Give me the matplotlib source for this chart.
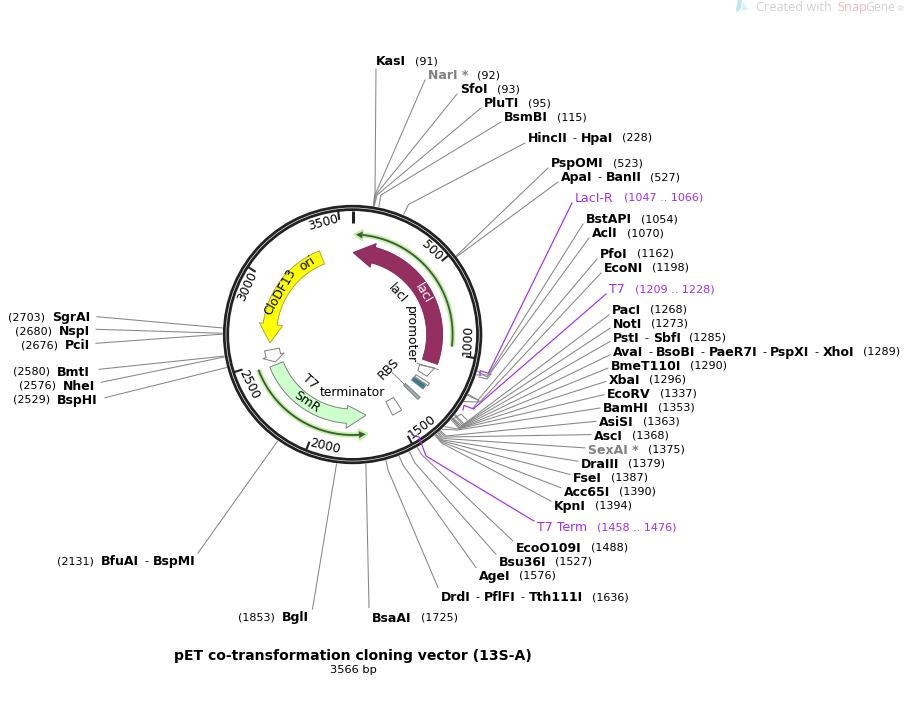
import numpy as np
import matplotlib
matplotlib.use("Agg")
import matplotlib.pyplot as plt
from matplotlib.patches import Polygon, Circle

# ---------- data ----------
TOTAL_BP = 3566
TITLE = "pET co-transformation cloning vector (13S-A)"
SIZE_LABEL = "3566 bp"
tick_values = [500, 1000, 1500, 2000, 2500, 3000, 3500]

right_names = ["KasI", "NarI *", "SfoI", "PluTI", "BsmBI", "HincII - HpaI", "PspOMI", "ApaI - BanII",
               "LacI-R", "BstAPI", "AclI", "PfoI", "EcoNI", "T7", "PacI", "NotI", "PstI - SbfI",
               "AvaI - BsoBI - PaeR7I - PspXI - XhoI", "BmeT110I", "XbaI", "EcoRV", "BamHI", "AsiSI",
               "AscI", "SexAI *", "DraIII", "FseI", "Acc65I", "KpnI", "T7 Term", "EcoO109I", "Bsu36I",
               "AgeI", "DrdI - PflFI - Tth111I", "BsaAI"]
right_pos = [91, 92, 93, 95, 115, 228, 523, 527, 1056, 1054, 1070, 1162, 1198, 1218, 1268, 1273, 1285,
             1289, 1290, 1296, 1337, 1353, 1363, 1368, 1375, 1379, 1387, 1390, 1394, 1467, 1488, 1527,
             1576, 1636, 1725]
right_text = ["(91)", "(92)", "(93)", "(95)", "(115)", "(228)", "(523)", "(527)", "(1047 .. 1066)",
              "(1054)", "(1070)", "(1162)", "(1198)", "(1209 .. 1228)", "(1268)", "(1273)", "(1285)",
              "(1289)", "(1290)", "(1296)", "(1337)", "(1353)", "(1363)", "(1368)", "(1375)", "(1379)",
              "(1387)", "(1390)", "(1394)", "(1458 .. 1476)", "(1488)", "(1527)", "(1576)", "(1636)", "(1725)"]
left_names = ["BglI", "BfuAI - BspMI", "SgrAI", "NspI", "PciI", "BmtI", "NheI", "BspHI"]
left_pos = [1853, 2131, 2703, 2680, 2676, 2580, 2576, 2529]

# feature spans in bp
lacI_span = (1084, 3)
lacI_orf_span = (960, 7)
smr_span = (2462, 1689)
smr_orf_span = (2471, 1697)
ori_span = (3351, 2617)
smr_prom_span = (2570, 2481)
t7term_box_span = (1456, 1522)
operator_span = (1235, 1265)
t7_box_span = (1212, 1230)
rbs_span = (1316, 1336)

# ---------- layout ----------
CX, CY = 352.6, 334.5
R_OUT, R_IN = 128.3, 124.9
right_x = [376, 428, 460, 484, 504, 528, 551, 561, 575, 586, 592, 600, 604, 609, 612, 613, 613, 613, 611,
           609, 607, 603, 599, 594, 588, 581, 573, 564, 554, 537, 516, 499, 479, 441, 372]
right_y = [61, 75, 89, 103, 117, 138, 163, 177, 198, 219, 233, 254, 268, 289, 310, 324, 338, 352, 366,
           380, 394, 408, 422, 436, 450, 464, 478, 492, 506, 527, 548, 562, 576, 597, 618]
right_elbow = [(375, 195), (374.5, 196), (376, 194.5), (377, 195), (381, 195), (408.5, 204.5), None, None,
               None, (487, 377), (489, 375), (478, 400), (480, 402), None,
               (464, 424), (463, 425), (462, 426), (461, 427), (460, 428), (459, 428.5), (458, 429), (457, 430),
               (446, 436), (445, 437), (444, 438.5), (443, 440), (442.5, 441), (442, 442), (441.5, 443),
               None, (422, 455), (415, 463), (403, 465), (388, 470), None]
left_right_edge = [309, 195, 90, 90, 90, 90, 95, 98]
left_y = [617, 561, 317, 331, 345, 372, 386, 400]
left_end = [(312.5, 609), (198, 553), (97, 316.7), (96, 329.3), (96, 343.3), (99, 369.3), (101, 382.3), (105, 397.7)]
purple_paths = {"LacI-R": [(480, 375.5), (480, 370.7), (488.3, 373.3)],
                "T7": [(463, 410), (464, 405.3), (473.3, 409)],
                "T7 Term": [(414.5, 436), (419, 437), (426, 456)]}
NAME_FS, POS_FS = 9.0, 8.0
PURPLE, GREY_TXT, LINE = "#a32cf0", "#808080", "#868686"
EDGE = "#808080"

fig = plt.figure(figsize=(9.06, 7.01), dpi=100)
ax = fig.add_axes([0, 0, 1, 1])
ax.set_xlim(0, 906)
ax.set_ylim(701, 0)
ax.axis("off")
renderer = fig.canvas.get_renderer()


def theta(bp):
    return np.deg2rad(np.asarray(bp, float) / TOTAL_BP * 360)


def P(bp, r):
    t = theta(bp)
    return CX + r * np.sin(t), CY - r * np.cos(t)


def arc(b0, b1, r, n=60):
    bps = np.linspace(b0, b1, n)
    x, y = P(bps, r)
    return list(zip(x, y))


def arrow_poly(start, end, r0, r1, w0, w1, head_deg=13.5):
    sign = 1 if end > start else -1
    base = end - sign * head_deg / 360 * TOTAL_BP
    return (arc(start, base, r0) + [P(base, w0), P(end, (r0 + r1) / 2), P(base, w1)] + arc(base, start, r1))


def word_at(txt, bp, r, **kw):
    deg = bp / TOTAL_BP * 360
    rot = 180 - deg if 90 <= deg < 270 else -deg
    x, y = P(bp, r)
    ax.text(x, y, txt, rotation=rot, rotation_mode="anchor", ha="center", va="center", **kw)


# ---------- leaders ----------
for name, bp, x, y, elbow in zip(right_names, right_pos, right_x, right_y, right_elbow):
    dy = 8 if name == "KasI" else float(np.clip((408 - y) * 0.05, -10.5, 5))
    end = (x - 3 if name != "KasI" else x, y + dy)
    if name in purple_paths:
        pts = purple_paths[name] + [end]
        ax.plot(*zip(*pts), color=PURPLE, lw=0.85, zorder=6, solid_joinstyle="miter")
        continue
    pts = [P(bp, 130.5)] + ([elbow] if elbow else []) + [end]
    ax.plot(*zip(*pts), color=LINE, lw=0.75, zorder=1)
for bp, end in zip(left_pos, left_end):
    pts = [P(bp, 130.5), end]
    ax.plot(*zip(*pts), color=LINE, lw=0.75, zorder=1)

# bracket shapes at the elbows
for pts in ([(479, 377), (487, 379), (491, 374)], [(467, 395), (479, 400.7), (473, 408)],
            [(452.7, 419.3), (461, 414), (467, 420)]):
    ax.plot(*zip(*pts), color=LINE, lw=0.75, zorder=1)

# ---------- backbone ----------
for r in (R_OUT, R_IN):
    ax.add_patch(Circle((CX, CY), r, fill=False, ec="#222222", lw=2.0, zorder=4))
for v in tick_values:
    ax.plot(*zip(P(v, 124), P(v, 116.5)), color="#222222", lw=1.5, zorder=4)
    deg_offset = 6.8 if v == 500 else 8.2
    word_at(str(v), v - deg_offset / 360 * TOTAL_BP, 115.5, fontsize=8.8, color="black", zorder=5)
ax.plot(*zip(P(0, 124), P(0, 111.5)), color="#222222", lw=2.2, zorder=4, solid_capstyle="butt")

# ---------- features ----------
ax.add_patch(Polygon(arrow_poly(*lacI_span, 74, 90, 69.5, 94, head_deg=14.3), fc="#962f61", ec="#7a2850", lw=0.6, zorder=3))
ax.add_patch(Polygon(arrow_poly(*smr_span, 74.5, 89, 71, 94), fc="#ccffcc", ec=EDGE, lw=0.7, zorder=3))
ax.add_patch(Polygon(arrow_poly(*ori_span, 76, 90, 70.5, 94, head_deg=13), fc="#ffff00", ec="#9a9a40", lw=0.6, zorder=3))
ax.add_patch(Polygon(arrow_poly(*smr_prom_span, 74.5, 89.5, 71, 93, head_deg=4.5), fc="white", ec=EDGE, lw=0.7, zorder=3))

# lacI promoter, truncated arrow
prom_pts = [P(1132, 73.5), P(1112, 88.6), P(1182, 85.2), P(1178, 74.6)]
ax.add_patch(Polygon(prom_pts, fc="white", ec=EDGE, lw=0.7, zorder=3))
ax.plot(*zip(P(1130, 71), P(1112, 92.3)), color=EDGE, lw=0.7, zorder=3)

for span, fc, r0, r1 in ((t7term_box_span, "white", 75, 90), (t7_box_span, "white", 75, 91),
                         (operator_span, "#2f7f94", 74.5, 89), (rbs_span, "#a3adb5", 72, 92)):
    pts = arc(span[0], span[1], r0, 8) + arc(span[1], span[0], r1, 8)
    ax.add_patch(Polygon(pts, fc=fc, ec=EDGE, lw=0.7, zorder=3))

# thin ORF arrows
for (start, end), r in ((lacI_orf_span, 100.0), (smr_orf_span, 100.5)):
    sign = 1 if end > start else -1
    base = end - sign * 5.0 / 360 * TOTAL_BP
    ax.plot(*zip(*arc(start, base, r)), color="#b9f39a", lw=3.6, zorder=2, solid_capstyle="butt")
    head = [P(base, r - 5.2), P(end, r), P(base, r + 5.2)]
    ax.add_patch(Polygon(head, fc="#b9f39a", ec="#b9f39a", lw=1.2, zorder=2))
    ax.plot(*zip(*arc(start, base, r)), color="#45553f", lw=1.3, zorder=3, solid_capstyle="butt")
    inner = [P(base, r - 3.4), P(end - sign * 1.2 / 360 * TOTAL_BP, r), P(base, r + 3.4)]
    ax.add_patch(Polygon(inner, fc="#45553f", ec="none", zorder=3))

# feature captions, one straight piece per word
word_at("lacI", 590, 81.5, fontsize=8.8, color="white", zorder=6)
word_at("lacI", 475, 61, fontsize=8.8, color="black", zorder=6)
word_at("promoter", 890, 58, fontsize=8.8, color="black", zorder=6)
word_at("CloDF13", 2972, 84, fontsize=8.8, color="black", zorder=6)
word_at("ori", 3244, 84, fontsize=8.8, color="black", zorder=6)
word_at("SmR", 2120, 82, fontsize=8.8, color="black", zorder=6)
word_at("T7", 2205, 63.5, fontsize=8.8, color="black", zorder=6)
word_at("terminator", 1783, 58, fontsize=8.8, color="black", zorder=6)
word_at("RBS", 1326, 50, fontsize=8.8, color="black", zorder=6)
ax.plot(*zip(P(1326, 55), P(1326, 73)), color=EDGE, lw=0.6, zorder=3)


# ---------- labels ----------
def put(x, y, txt, weight="bold", fs=NAME_FS, color="black", ha="left"):
    t = ax.text(x, y - 1, txt, fontsize=fs, fontweight=weight, color=color, ha=ha, va="center_baseline", zorder=7)
    return t.get_window_extent(renderer).width


for name, txt, x, y in zip(right_names, right_text, right_x, right_y):
    if name in purple_paths:
        w = put(x, y, name, weight="normal", color=PURPLE)
        put(x + w + 10, y, txt, weight="normal", fs=POS_FS, color=PURPLE)
        continue
    color = GREY_TXT if "*" in name else "black"
    cur = x
    parts = name.split(" - ")
    for i, part in enumerate(parts):
        cur += put(cur, y, part, color=color)
        if i < len(parts) - 1:
            cur += 5
            cur += put(cur, y, "-", weight="normal", fs=POS_FS) + 4
    put(cur + 9, y, txt, weight="normal", fs=POS_FS)

for name, bp, xr, y in zip(left_names, left_pos, left_right_edge, left_y):
    parts = name.split(" - ")
    cur = xr
    for i, part in enumerate(reversed(parts)):
        cur -= put(cur, y, part, ha="right")
        if i < len(parts) - 1:
            cur -= 4
            cur -= put(cur, y, "-", weight="normal", fs=POS_FS, ha="right") + 5
    put(cur - 7, y, f"({bp})", weight="normal", fs=POS_FS, ha="right")

ax.text(353, 656, TITLE, fontsize=10.1, fontweight="bold", ha="center", va="center")
ax.text(353, 670, SIZE_LABEL, fontsize=8.2, ha="center", va="center")

# watermark
wm = [("Created with ", "#d2d2d2", 756, 9.2), ("Snap", "#f3b7b4", 837, 9.2), ("Gene", "#d2d2d2", 865, 8.8), ("®", "#d2d2d2", 897, 6)]
for s, c, wx, fs in wm:
    ax.text(wx, 11, s, fontsize=fs, color=c, family="Open Sans", ha="left", va="baseline")
ax.add_patch(Polygon([(738, 0), (742, 0), (741, 8), (737, 13), (736, 9)], fc="#bfe8f3", ec="none"))
ax.add_patch(Polygon([(743, 2), (748, 10), (742, 10)], fc="#d7eff6", ec="none"))

fig.savefig("out.png", dpi=100, facecolor="white")
